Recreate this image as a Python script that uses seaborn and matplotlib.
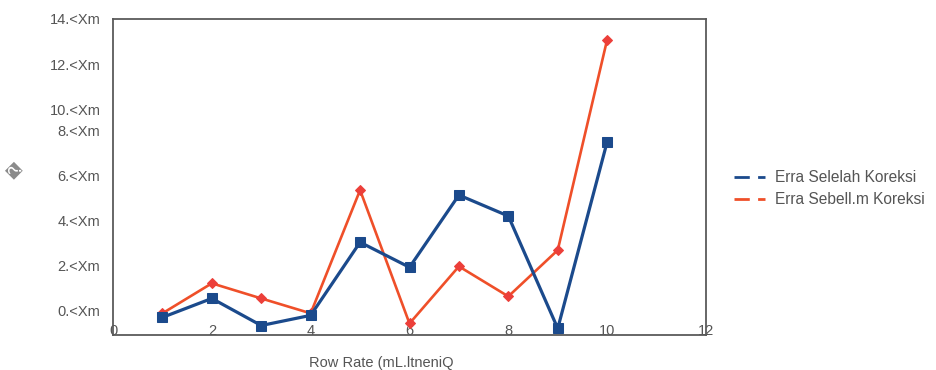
import matplotlib
matplotlib.use("Agg")
import matplotlib.pyplot as plt
import matplotlib.transforms as mtransforms
from matplotlib.lines import Line2D
import pandas as pd
import seaborn as sns

# Measured error per flow rate, before and after correction
flow_rate = [1, 2, 3, 4, 5, 6, 7, 8, 9, 10]
error_after = [0.78, 1.62, 0.42, 0.87, 4.11, 3.00, 6.20, 5.27, 0.29, 8.56]
error_before = [0.96, 2.29, 1.62, 0.96, 6.42, 0.51, 3.04, 1.71, 3.76, 13.09]
series_names = ["Erra Selelah Koreksi", "Erra Sebell.m Koreksi"]

x_ticks = [0, 2, 4, 6, 8, 10, 12]
y_ticks = [0, 2, 4, 6, 8, 10, 12, 14]
y_tick_labels = ["0.<Xm", "2.<Xm", "4.<Xm", "6.<Xm", "8.<Xm",
                 "10.<Xm", "12.<Xm", "14.<Xm"]
x_label = "Row Rate (mL.ltneniQ"
y_label = "\ufffd"

BLUE = "#1b4a8c"
RED = "#ef4f29"
GREY = "#555555"

sns.set_style("white")
plt.rcParams["font.family"] = ["Liberation Sans", "DejaVu Sans"]

df_after = pd.DataFrame({"flow": flow_rate, "error": error_after})
df_before = pd.DataFrame({"flow": flow_rate, "error": error_before})

fig = plt.figure(figsize=(9.36, 3.70), dpi=100)
ax = fig.add_axes([113 / 936, 1 - 335 / 370, 593 / 936, 316 / 370])

sns.lineplot(data=df_before, x="flow", y="error", ax=ax, color=RED,
             linewidth=1.9, marker="D", markersize=5.5,
             markerfacecolor="#ec3f3a", markeredgecolor="#ec3f3a",
             legend=False, zorder=2)
sns.lineplot(data=df_after, x="flow", y="error", ax=ax, color=BLUE,
             linewidth=2.3, marker="s", markersize=7.5,
             markerfacecolor=BLUE, markeredgecolor=BLUE,
             legend=False, zorder=3)

ax.set_xlim(0, 12)
ax.set_ylim(0, 14)
ax.set_xticks(x_ticks)
ax.set_xticklabels([str(t) for t in x_ticks])
ax.set_yticks(y_ticks)
ax.set_yticklabels(y_tick_labels)

for side in ["left", "bottom", "top", "right"]:
    ax.spines[side].set_visible(True)
    ax.spines[side].set_color("#5a5a5a")
    ax.spines[side].set_linewidth(1.3)

ax.tick_params(axis="both", direction="out", length=5, width=1.2,
               color="#5a5a5a", labelcolor=GREY, labelsize=10.5)
ax.tick_params(axis="x", pad=-13)
ax.tick_params(axis="y", pad=4)

# lower y labels sit higher than their tick marks
shift = mtransforms.ScaledTranslation(0, 0.24, fig.dpi_scale_trans)
for val, lab in zip(y_ticks, ax.get_yticklabels()):
    if val <= 8:
        lab.set_transform(lab.get_transform() + shift)

ax.set_xlabel(x_label, fontsize=10.5, color=GREY)
ax.xaxis.set_label_coords((381 - 113) / 593, -0.066)
ax.set_ylabel(y_label, fontsize=13, color="#8a8a8a", family=["DejaVu Sans"],
              rotation=90, ha="center", va="center")
ax.yaxis.set_label_coords((16 - 113) / 593, (335 - 170) / 316)

handles = [
    Line2D([0], [0], color=BLUE, linewidth=2.0, linestyle=(0, (5.5, 3))),
    Line2D([0], [0], color=RED, linewidth=2.0, linestyle=(0, (5.5, 3))),
]
fig.legend(handles, series_names, loc="center left",
           bbox_to_anchor=(728 / 936, 1 - 189 / 370), frameon=False,
           fontsize=11.2, labelcolor=GREY, handlelength=2.0,
           handletextpad=0.6, labelspacing=0.45, borderaxespad=0)

fig.savefig("out.png", dpi=100)
